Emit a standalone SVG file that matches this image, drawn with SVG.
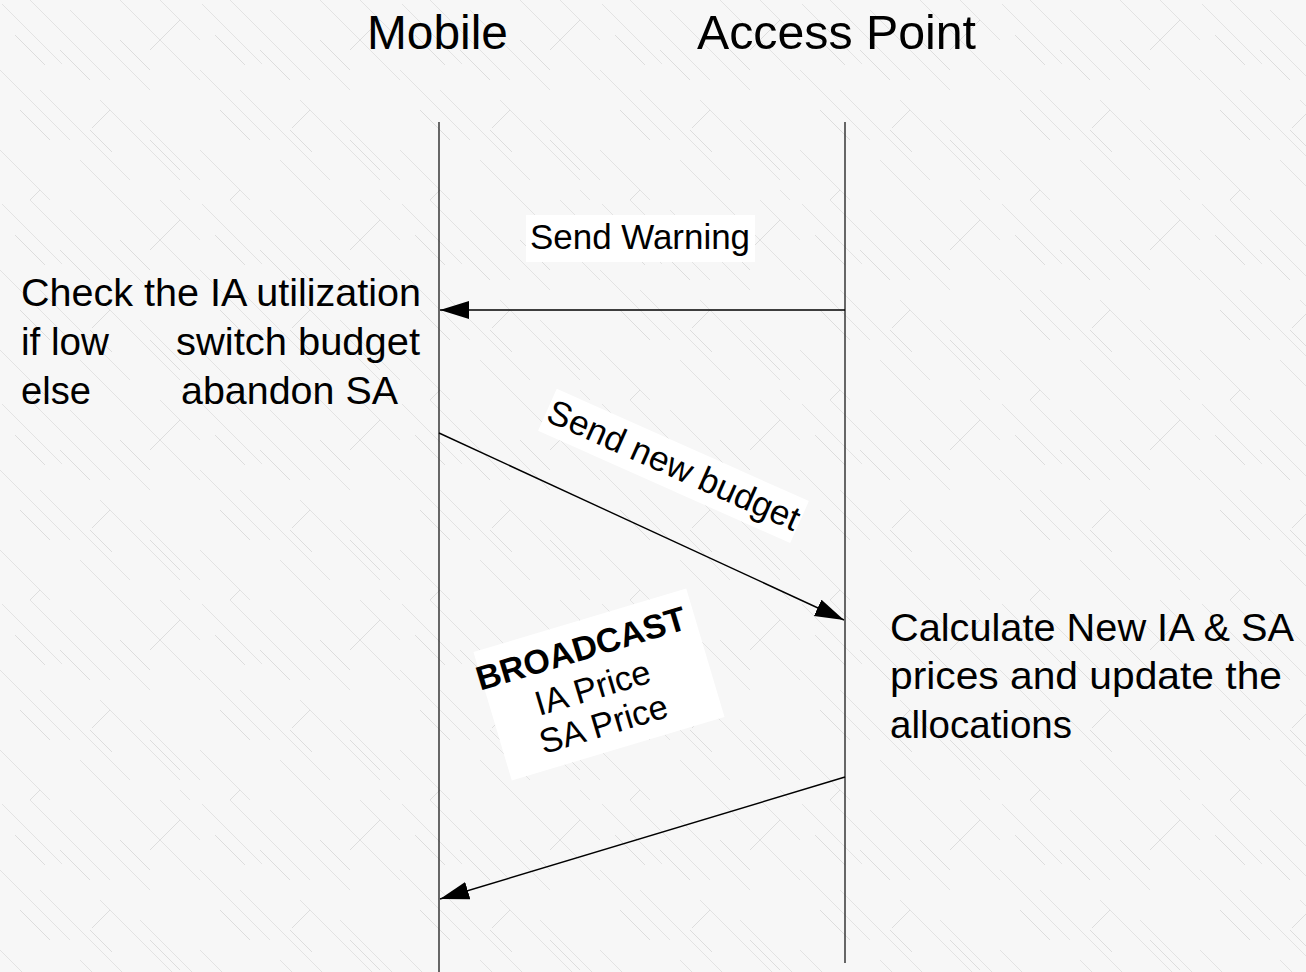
<svg xmlns="http://www.w3.org/2000/svg" width="1306" height="972" viewBox="0 0 1306 972">
<style>
  .t { font-family: "Liberation Sans", Arial, sans-serif; fill: #000; }
  .life { stroke: #1a1a1a; stroke-width: 1.3; fill: none; }
  .msg { stroke: #000; stroke-width: 1.4; fill: none; marker-end: url(#ah); }
  .lbl { fill: #fff; stroke: none; }
</style>
<defs>
  <marker id="ah" markerUnits="userSpaceOnUse" markerWidth="30" markerHeight="20" refX="29" refY="9" orient="auto">
    <path d="M0,0 L29,9 L0,18 z" fill="#000"/>
  </marker>
  <pattern id="bg" x="0" y="0" width="200" height="200" patternUnits="userSpaceOnUse">
    <rect width="200" height="200" fill="#f7f7f7"/>
    <g stroke="#cfcfcf" stroke-width="1" stroke-opacity="0.5" fill="none">
      <path d="M2,4 L62,64 M30,0 L110,80 M70,10 L150,90 M120,0 L200,80 M0,70 L70,140 M40,90 L130,180 M100,100 L180,180 M140,120 L200,180 M0,150 L50,200 M80,160 L120,200 M160,0 L200,40 M180,190 L190,200"/>
    </g>
    <g stroke="#bdbdbd" stroke-width="1" stroke-opacity="0.45" fill="none">
      <path d="M15,35 L45,65 M60,50 L90,80 M120,40 L150,70 M20,110 L50,140 M150,140 L180,170 M90,130 L112,152"/>
      <path d="M180,20 L150,50 M40,190 L20,210 M110,110 L92,128"/>
    </g>
  </pattern>
</defs>
<rect x="0" y="0" width="1306" height="972" fill="url(#bg)"/>

<g id="mobile">
  <text class="t" x="367" y="49" font-size="48" textLength="141" lengthAdjust="spacingAndGlyphs">Mobile</text>
  <line class="life" x1="439" y1="122" x2="439" y2="972"/>
</g>
<g id="access-point">
  <text class="t" x="697" y="49" font-size="48" textLength="279" lengthAdjust="spacingAndGlyphs">Access Point</text>
  <line class="life" x1="845" y1="122" x2="845" y2="963"/>
</g>

<g id="mobile-check">
  <text class="t" x="21" y="306" font-size="39" textLength="400" lengthAdjust="spacingAndGlyphs">Check the IA utilization</text>
  <text class="t" x="21" y="355" font-size="39" textLength="88" lengthAdjust="spacingAndGlyphs">if low</text>
  <text class="t" x="176" y="355" font-size="39" textLength="244" lengthAdjust="spacingAndGlyphs">switch budget</text>
  <text class="t" x="21" y="404" font-size="39" textLength="70" lengthAdjust="spacingAndGlyphs">else</text>
  <text class="t" x="181" y="404" font-size="39" textLength="217" lengthAdjust="spacingAndGlyphs">abandon SA</text>
</g>

<g id="ap-calc">
  <text class="t" x="890" y="641" font-size="39" textLength="404" lengthAdjust="spacingAndGlyphs">Calculate New IA &amp; SA</text>
  <text class="t" x="890" y="689" font-size="39" textLength="392" lengthAdjust="spacingAndGlyphs">prices and update the</text>
  <text class="t" x="890" y="738" font-size="39" textLength="182" lengthAdjust="spacingAndGlyphs">allocations</text>
</g>

<g id="connectors">
  <g id="send-warning">
    <line class="msg" x1="845" y1="310" x2="440" y2="310"/>
    <rect class="lbl" x="526" y="215" width="229" height="47"/>
    <text class="t" x="530" y="249" font-size="34.5" textLength="220" lengthAdjust="spacingAndGlyphs">Send Warning</text>
  </g>
  <g id="send-new-budget">
    <line class="msg" x1="439" y1="433" x2="844" y2="620"/>
    <g transform="translate(669,476) rotate(24)">
      <rect class="lbl" x="-138" y="-34" width="276" height="46"/>
      <text class="t" x="0" y="0" font-size="35" text-anchor="middle">Send new budget</text>
    </g>
  </g>
  <g id="broadcast">
    <line class="msg" x1="845" y1="777" x2="440" y2="899"/>
    <g transform="translate(596,699) rotate(-16.6)">
      <rect class="lbl" x="-104" y="-80" width="222" height="134"/>
      <text class="t" x="0" y="-41" font-size="34" font-weight="bold" text-anchor="middle">BROADCAST</text>
      <text class="t" x="0" y="0" font-size="34.5" text-anchor="middle">IA Price</text>
      <text class="t" x="0" y="38" font-size="34.5" text-anchor="middle">SA Price</text>
    </g>
  </g>
</g>
</svg>
